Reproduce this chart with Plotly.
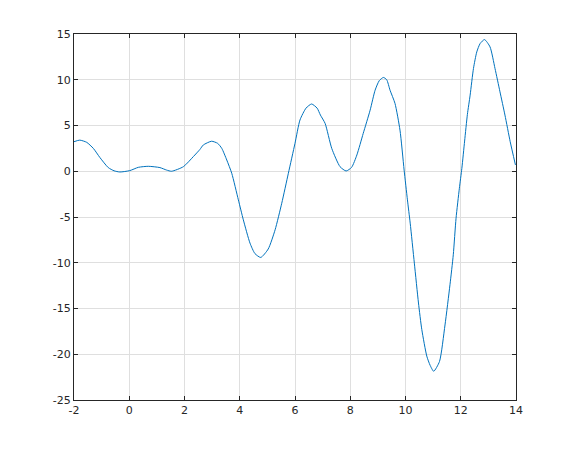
import plotly.graph_objects as go

x_vals = [-2.0, -1.79, -1.54, -1.3, -1.06, -0.76, -0.55, -0.34, 0.02, 0.33, 0.69, 1.11, 1.35, 1.53, 1.96, 2.32, 2.56, 2.68, 2.98,
          3.2, 3.35, 3.53, 3.71, 3.95, 4.13, 4.37, 4.55, 4.76, 5.03, 5.28, 5.52, 5.76, 6.0, 6.18, 6.4, 6.6,
          6.8, 6.92, 7.09, 7.33, 7.63, 7.85, 8.05, 8.24, 8.47, 8.72, 8.9, 9.05, 9.2, 9.32, 9.44, 9.62,
          9.8, 9.95, 10.07, 10.17, 10.32, 10.47, 10.59, 10.77, 10.89, 11.02, 11.23, 11.43, 11.61, 11.73,
          11.83, 11.95, 12.04, 12.14, 12.24, 12.34, 12.46, 12.58, 12.7, 12.86, 13.06, 13.24, 13.42, 13.6,
          13.79, 13.98]
y_vals = [3.23, 3.4, 3.16, 2.5, 1.49, 0.4, 0.05, -0.08, 0.07, 0.43, 0.54, 0.4, 0.13, 0.0, 0.5, 1.6, 2.39, 2.87, 3.28,
          3.05, 2.5, 1.23, -0.22, -3.13, -5.31, -7.85, -9.0, -9.42, -8.5, -6.4, -3.5, -0.22, 3.05, 5.6, 6.9, 7.35,
          6.9, 6.14, 5.23, 2.5, 0.5, 0.03, 0.43, 1.78, 4.14, 6.68, 8.86, 9.9, 10.25, 10.0, 8.86, 7.41,
          4.5, 0.13, -3.13, -5.67, -10.04, -14.4, -17.3, -20.2, -21.2, -21.86, -20.8, -16.8, -12.4, -9.13,
          -5.13, -1.86, 0.32, 3.3, 6.2, 8.32, 11.23, 13.04, 13.95, 14.39, 13.59, 11.23, 8.68, 6.14,
          3.23, 0.69]

x_ticks = [-2, 0, 2, 4, 6, 8, 10, 12, 14]
x_tick_labels = ["-2", "0", "2", "4", "6", "8", "10", "12", "14"]
y_ticks = [-25, -20, -15, -10, -5, 0, 5, 10, 15]
y_tick_labels = ["-25", "-20", "-15", "-10", "-5", "0", "5", "10", "15"]

fig = go.Figure()
fig.add_trace(go.Scatter(x=x_vals, y=y_vals, mode="lines",
                         line=dict(color="#0072BD", width=1, shape="spline", smoothing=0.6),
                         showlegend=False))

axis_common = dict(showline=True, linecolor="#262626", linewidth=1, mirror="ticks",
                   ticks="inside", ticklen=4, tickcolor="#262626", showgrid=True,
                   gridcolor="#dfdfdf", gridwidth=1, zeroline=False,
                   tickfont=dict(family="DejaVu Sans", size=11, color="#262626"))

fig.update_xaxes(range=[-2, 14], tickvals=x_ticks, ticktext=x_tick_labels, **axis_common)
fig.update_yaxes(range=[-25, 15], tickvals=y_ticks, ticktext=y_tick_labels, **axis_common)

fig.update_layout(width=562, height=442, plot_bgcolor="white", paper_bgcolor="white",
                  margin=dict(l=66, r=54, t=26, b=50))

fig.write_html("out.html")
